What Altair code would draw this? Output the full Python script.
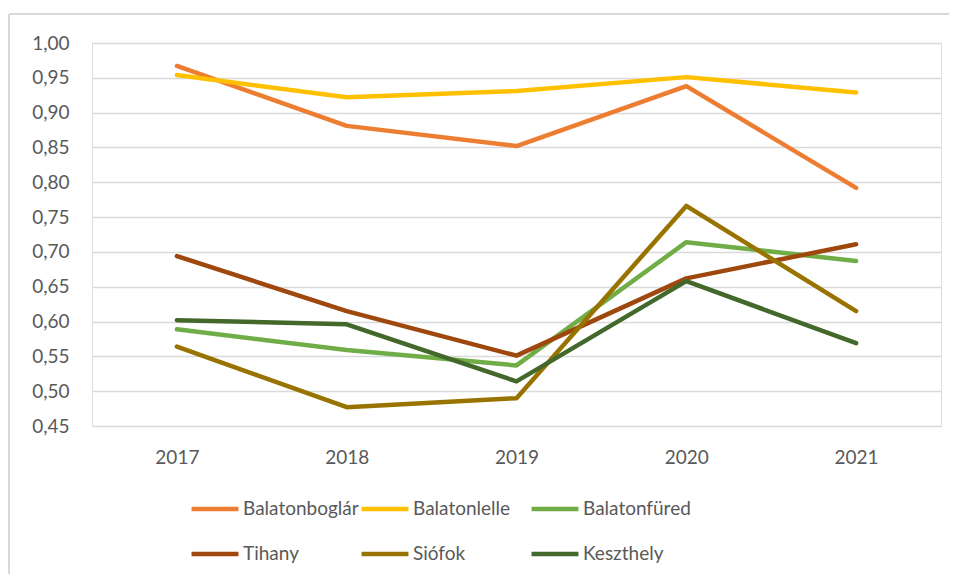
import altair as alt
import pandas as pd

years = ["2017", "2018", "2019", "2020", "2021"]
series = ["Balatonboglár", "Balatonlelle", "Balatonfüred", "Tihany", "Siófok", "Keszthely"]
colors = ["#ED7D31", "#FFC000", "#70AD47", "#9E480E", "#997300", "#43682B"]

balatonboglar = [0.967, 0.881, 0.852, 0.938, 0.792]
balatonlelle = [0.954, 0.922, 0.931, 0.951, 0.929]
balatonfured = [0.589, 0.559, 0.537, 0.714, 0.687]
tihany = [0.694, 0.615, 0.551, 0.662, 0.711]
siofok = [0.564, 0.477, 0.490, 0.766, 0.615]
keszthely = [0.602, 0.596, 0.514, 0.658, 0.569]

values = [balatonboglar, balatonlelle, balatonfured, tihany, siofok, keszthely]
rows = []
for i, (name, vals) in enumerate(zip(series, values)):
    for y, v in zip(years, vals):
        rows.append({"Év": y, "Település": name, "Érték": v, "order": i})
df = pd.DataFrame(rows)

FONT = "Lato"
FS = 19
GRID = "#D9D9D9"
TXT = "#595959"

lines = alt.Chart(df).mark_line(strokeWidth=4.5, strokeCap="round", strokeJoin="round").encode(
    x=alt.X("Év:O", title=None, sort=years,
            scale=alt.Scale(paddingOuter=0.5),
            axis=alt.Axis(labelAngle=0, labelFontSize=FS, labelColor=TXT, labelFont=FONT,
                          domain=False, ticks=False, labelPadding=22, grid=False)),
    y=alt.Y("Érték:Q", title=None,
            scale=alt.Scale(domain=[0.45, 1.00], nice=False, zero=False),
            axis=alt.Axis(values=[0.45, 0.5, 0.55, 0.6, 0.65, 0.7, 0.75, 0.8, 0.85, 0.9, 0.95, 1.0],
                          labelExpr="replace(format(datum.value, '.2f'), '.', ',')",
                          labelFontSize=FS, labelColor=TXT, labelFont=FONT,
                          domain=False, ticks=False, labelPadding=23,
                          grid=True, gridColor=GRID, gridWidth=1.5)),
    color=alt.Color("Település:N", title=None,
                    scale=alt.Scale(domain=series, range=colors),
                    legend=alt.Legend(orient="none", legendX=97, legendY=440, columns=3,
                                      direction="horizontal",
                                      gridAlign="all", symbolType="stroke", symbolSize=2200,
                                      symbolStrokeWidth=4.5, labelFontSize=FS, labelColor=TXT,
                                      labelFont=FONT, labelOffset=2, columnPadding=-11,
                                      rowPadding=9)),
    order=alt.Order("order:Q"),
)

frame_top = alt.Chart(df).mark_rule(color=GRID, strokeWidth=1.5).encode(
    x=alt.value(-83), x2=alt.value(900), y=alt.value(-29))
frame_left = alt.Chart(df).mark_rule(color=GRID, strokeWidth=1.5).encode(
    x=alt.value(-83), y=alt.value(-29), y2=alt.value(600))

chart = alt.layer(frame_top, frame_left, lines).properties(
    width=849, height=383,
    padding={"left": 84, "top": 35, "right": 8, "bottom": 148},
    autosize=alt.AutoSizeParams(type="none"),
).configure_view(stroke=None).configure(background="white")

chart.save("out.html", embed_options={"renderer": "svg", "actions": False})
